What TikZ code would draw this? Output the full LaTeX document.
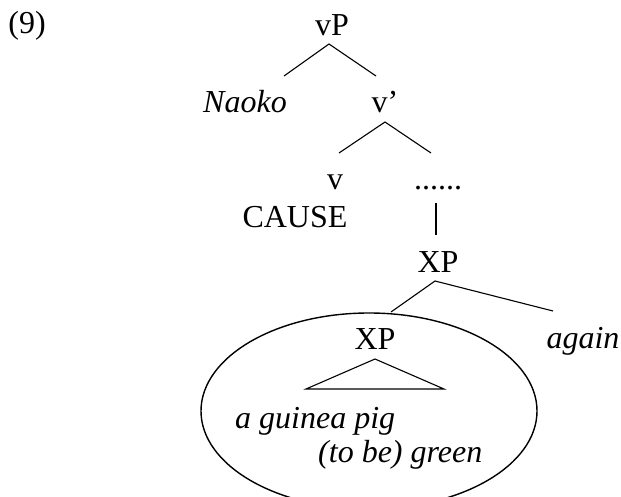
\documentclass[tikz,border=0pt]{standalone}
\usepackage{fontspec}
\setmainfont{Liberation Serif}
\begin{document}
\begin{tikzpicture}[x=1pt,y=-1pt,
  lbl/.style={font=\fontsize{32}{38}\selectfont, inner sep=0pt, anchor=base},
  branch/.style={line width=1.1pt},
  blob/.style={line width=1.4pt}]
\useasboundingbox (0,0) rectangle (621,497);
\clip (0,0) rectangle (621,497);
% labels
\node[lbl] (ex) at (27,34) {(9)};
\node[lbl] (vP) at (332,36) {vP};
\node[lbl] (naoko) at (245,113) {\textit{Naoko}};
\node[lbl] (vbar) at (385,113) {v’};
\node[lbl] (v) at (335,190) {v};
\node[lbl] (dots) at (438,190) {......};
\node[lbl] (cause) at (295,228) {CAUSE};
\node[lbl] (xp1) at (438,272) {XP};
\node[lbl] (again) at (583,348) {\textit{again}};
\node[lbl] (xp2) at (375,349) {XP};
\node[lbl,anchor=base west] (agp) at (235,428) {\textit{a guinea pig}};
\node[lbl,anchor=base west] (green) at (318,462) {\textit{(to be) green}};
% branch end points
\coordinate (vPb) at (329,44);
\coordinate (naokot) at (284,76);
\coordinate (vbart) at (376,76);
\coordinate (vbarb) at (385,122);
\coordinate (vt) at (339,153);
\coordinate (dotst) at (431,153);
\coordinate (dotsb) at (436,203);
\coordinate (xp1t) at (436,235);
\coordinate (xp1b) at (435,281);
\coordinate (xp2t) at (391,312);
\coordinate (againt) at (553,311);
\coordinate (tri) at (375,359);
\coordinate (tril) at (306,389);
\coordinate (trir) at (444,389);
% branches
\draw[branch] (naokot) -- (vPb) -- (vbart);
\draw[branch] (vt) -- (vbarb) -- (dotst);
\draw[branch] (dotsb) -- (xp1t);
\draw[branch] (xp2t) -- (xp1b) -- (againt);
\draw[branch] (tri) -- (tril) -- (trir) -- cycle;
% circled constituent
\draw[blob] (369,411) ellipse [x radius=168pt, y radius=98pt];
\end{tikzpicture}
\end{document}
